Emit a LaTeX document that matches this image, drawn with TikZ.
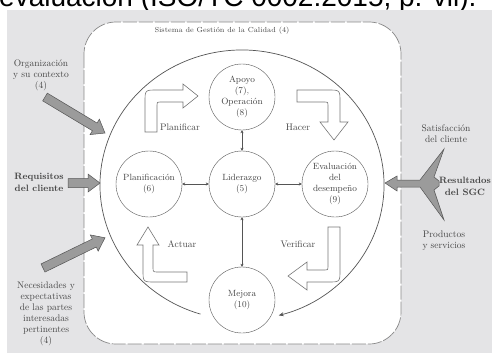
\documentclass[tikz,border=0pt]{standalone}
\usepackage{fontspec}
\newfontfamily\citafont{Liberation Sans}
\usetikzlibrary{arrows.meta}

\definecolor{fondo}{RGB}{228,228,230}
\definecolor{linea}{RGB}{85,85,85}
\definecolor{texto}{RGB}{70,70,70}
\definecolor{flechagris}{RGB}{155,155,155}

% gray input arrow along the local x axis, #1 = length
\newcommand{\flechaentrada}[1]{\filldraw[entrada] (0,-4.5) -- ({#1-12},-4.5) -- ({#1-12},-9) -- (#1,0) -- ({#1-12},9) -- ({#1-12},4.5) -- (0,4.5) -- cycle;}

\begin{document}
\begin{tikzpicture}[x=1pt, y=-1pt,
    etapa/.style={circle, draw=linea, fill=white, minimum size=66pt, inner sep=0pt, align=center, text=texto, font=\fontsize{9}{11}\selectfont},
    rotulo/.style={align=center, text=texto, inner sep=1pt, font=\fontsize{9.5}{11}\selectfont},
    negrita/.style={font=\bfseries\fontsize{9.2}{12}\selectfont},
    ciclo/.style={draw=linea!80, fill=white, line width=0.6pt},
    entrada/.style={draw=linea, fill=flechagris, line width=0.5pt},
    >={Stealth[length=3pt, width=3pt]}]
  \useasboundingbox (0,0) rectangle (492,353);
  \clip (0,0) rectangle (492,353);
  % Background
  \node[anchor=base west, inner sep=0pt, font=\citafont\fontsize{28}{30}\selectfont] (cita) at (-1,7) {evaluación (ISO/TC 0002:2015, p. vii).};
  \fill[fondo] (7,10) rectangle (492,353);
  \draw[linea!70, fill=white, dash pattern=on 14pt off 2pt, rounded corners=32pt, line width=0.7pt] (84,22) rectangle (401,344);
  \node[rotulo, font=\fontsize{7.3}{9}\selectfont] (sgc) at (222,31) {Sistema de Gestión de la Calidad (4)};
  % Big cycle
  \coordinate (bigc) at (242,185);
  \draw[linea, line width=0.7pt, -{Stealth[length=5pt, width=4pt]}] (bigc) ++(253:142pt and 135pt) arc[start angle=253, end angle=-75, x radius=142pt, y radius=135pt];
  % Cycle arrows
  \draw[ciclo] (145,132) -- (145,102) .. controls (145,90) .. (157,90) -- (183,90) -- (183,84) -- (198,96) -- (183,108) -- (183,102) -- (160,102) .. controls (157,102) .. (157,105) -- (157,132) -- cycle;
  \draw[ciclo] (297,90) -- (328,90) .. controls (340,90) .. (340,102) -- (340,122) -- (348,122) -- (334,140) -- (320,122) -- (328,122) -- (328,105) .. controls (328,102) .. (325,102) -- (297,102) -- cycle;
  \draw[ciclo] (340,227) -- (340,270) .. controls (340,282) .. (328,282) -- (307,282) -- (307,290) -- (288,276) -- (307,262) -- (307,270) -- (325,270) .. controls (328,270) .. (328,267) -- (328,227) -- cycle;
  \draw[ciclo] (187,282) -- (155,282) .. controls (143,282) .. (143,270) -- (143,245) -- (137,245) -- (148,227) -- (159,245) -- (153,245) -- (153,267) .. controls (153,272) .. (158,272) -- (187,272) -- cycle;
  \node[rotulo] (planificar) at (180,127) {Planificar};
  \node[rotulo] (hacer) at (298,127) {Hacer};
  \node[rotulo] (actuar) at (182,244) {Actuar};
  \node[rotulo] (verificar) at (298,244) {Verificar};
  % Nodes
  \node[etapa] (apoyo) at (242,97) {Apoyo\\(7),\\Operación\\(8)};
  \node[etapa] (lider) at (242,184) {Liderazgo\\(5)};
  \node[etapa] (planif) at (149,184) {Planificación\\(6)};
  \node[etapa] (evalua) at (335,184) {Evaluación\\del\\desempeño\\(9)};
  \node[etapa] (mejora) at (242,300) {Mejora\\(10)};
  % Edges
  \draw[<->, linea] (apoyo) -- (lider);
  \draw[<->, linea] (planif) -- (lider);
  \draw[<->, linea] (lider) -- (evalua);
  \draw[<->, linea] (lider) -- (mejora);
  % Inputs
  \node[rotulo] (contexto) at (41,75) {Organización\\y su contexto\\(4)};
  \node[rotulo, negrita] (requisitos) at (39,182) {Requisitos\\del cliente};
  \node[rotulo] (partes) at (46,314) {Necesidades y\\expectativas\\de las partes\\interesadas\\pertinentes\\(4)};
  \begin{scope}[shift={(45,97)}, rotate=-31]
    \flechaentrada{70}
  \end{scope}
  \begin{scope}[shift={(68,183)}]
    \flechaentrada{32}
  \end{scope}
  \begin{scope}[shift={(43,268)}, rotate=26]
    \flechaentrada{69}
  \end{scope}
  % Outputs
  \node[rotulo] (satisf) at (446,134) {Satisfacción\\del cliente};
  \node[rotulo, negrita] (resultados) at (465,186) {Resultados\\del SGC};
  \node[rotulo] (productos) at (444,241) {Productos\\y servicios};
  \filldraw[entrada] (385,183) -- (397,176) -- (397,180) -- (420,180) -- (444,149) -- (434,177) -- (439,181) -- (439,186) -- (434,190) -- (444,220) -- (420,187) -- (397,187) -- (397,191) -- cycle;
\end{tikzpicture}
\end{document}
